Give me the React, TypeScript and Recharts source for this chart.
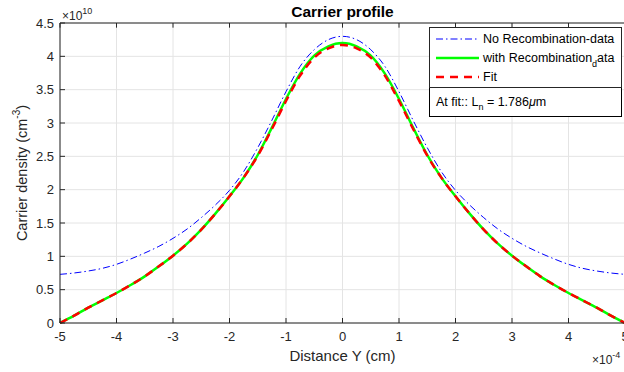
import React from "react";
import {
  LineChart,
  Line,
  XAxis,
  YAxis,
  CartesianGrid,
  ReferenceLine,
  Label,
} from "recharts";

// distance in units of 1e-4 cm, densities in units of 1e10 cm^-3
const distance = [
  -5, -4.75, -4.5, -4.25, -4, -3.75, -3.5, -3.25, -3, -2.75, -2.5, -2.25, -2,
  -1.75, -1.5, -1.25, -1, -0.75, -0.5, -0.25, 0, 0.25, 0.5, 0.75, 1, 1.25, 1.5,
  1.75, 2, 2.25, 2.5, 2.75, 3, 3.25, 3.5, 3.75, 4, 4.25, 4.5, 4.75, 5,
];

const noRecombination = [
  0.73, 0.75, 0.78, 0.82, 0.88, 0.96, 1.05, 1.15, 1.27, 1.41, 1.58, 1.77, 1.99,
  2.27, 2.63, 3.04, 3.47, 3.85, 4.1, 4.25, 4.3, 4.25, 4.1, 3.85, 3.47, 3.04,
  2.63, 2.27, 1.99, 1.77, 1.58, 1.41, 1.27, 1.15, 1.05, 0.96, 0.88, 0.82, 0.78,
  0.75, 0.73,
];

const withRecombination = [
  0, 0.11, 0.23, 0.34, 0.45, 0.57, 0.7, 0.85, 1.01, 1.19, 1.4, 1.64, 1.9, 2.18,
  2.52, 2.93, 3.36, 3.74, 4.01, 4.15, 4.2, 4.15, 4.01, 3.74, 3.36, 2.93, 2.52,
  2.18, 1.9, 1.64, 1.4, 1.19, 1.01, 0.85, 0.7, 0.57, 0.45, 0.34, 0.23, 0.11, 0,
];

const fit = [
  0, 0.11, 0.23, 0.34, 0.45, 0.57, 0.7, 0.85, 1.01, 1.19, 1.4, 1.64, 1.9, 2.18,
  2.51, 2.91, 3.33, 3.71, 3.98, 4.12, 4.17, 4.12, 3.98, 3.71, 3.33, 2.91, 2.51,
  2.18, 1.9, 1.64, 1.4, 1.19, 1.01, 0.85, 0.7, 0.57, 0.45, 0.34, 0.23, 0.11, 0,
];

const xTicks = [-5, -4, -3, -2, -1, 0, 1, 2, 3, 4, 5];
const yTicks = [0, 0.5, 1, 1.5, 2, 2.5, 3, 3.5, 4, 4.5];

const data = distance.map((x, i) => ({
  x,
  noRecombination: noRecombination[i],
  withRecombination: withRecombination[i],
  fit: fit[i],
}));

const FONT = '"Liberation Sans", Arial, Helvetica, sans-serif';
const AXIS = "#262626";
const PLOT_TOP = 23;

const series = [
  {
    key: "noRecombination",
    color: "#0000ff",
    width: 1,
    dash: "7 3 1.5 3",
    label: <>No Recombination-data</>,
  },
  {
    key: "withRecombination",
    color: "#00ff00",
    width: 2.5,
    dash: undefined,
    label: (
      <>
        with Recombination
        <span style={{ fontSize: 9, position: "relative", top: 5 }}>d</span>
        ata
      </>
    ),
  },
  {
    key: "fit",
    color: "#ff0000",
    width: 2.5,
    dash: "8 6",
    label: <>Fit</>,
  },
];

function XTitle(props: any) {
  const { x, y, width } = props.viewBox;
  return (
    <g fontFamily={FONT} fill={AXIS}>
      <text
        x={x + width / 2}
        y={PLOT_TOP - 6}
        textAnchor="middle"
        fontSize={15.5}
        fontWeight="bold"
        fill="#000"
      >
        Carrier profile
      </text>
      <text x={x + 2} y={PLOT_TOP - 3} fontSize={12}>
        ×10
        <tspan dy={-6} fontSize={9}>
          10
        </tspan>
      </text>
      <text x={x + width / 2} y={y + 38} textAnchor="middle" fontSize={15}>
        Distance Y (cm)
      </text>
      <text x={x + width - 33} y={y + 41} fontSize={12}>
        ×10
        <tspan dy={-6} fontSize={9}>
          -4
        </tspan>
      </text>
    </g>
  );
}

function YTitle(props: any) {
  const { y, height } = props.viewBox;
  const cx = 22;
  const cy = y + height / 2;
  return (
    <text
      x={cx}
      y={cy}
      transform={`rotate(-90, ${cx}, ${cy})`}
      textAnchor="middle"
      dominantBaseline="central"
      fontFamily={FONT}
      fontSize={14.5}
      fill={AXIS}
    >
      Carrier density (cm
      <tspan dy={-6} fontSize={10}>
        -3
      </tspan>
      <tspan dy={6}>)</tspan>
    </text>
  );
}

function LegendBox() {
  return (
    <div
      style={{
        position: "absolute",
        left: 429,
        top: 27,
        width: 193,
        fontFamily: FONT,
        fontSize: 12.5,
        color: "#000",
      }}
    >
      <div
        style={{
          border: `1px solid ${AXIS}`,
          background: "#fff",
          padding: "1px 0 1px 6px",
        }}
      >
        {series.map((s) => (
          <div
            key={s.key}
            style={{ display: "flex", alignItems: "center", height: 19 }}
          >
            <svg width={43} height={6} style={{ marginRight: 4 }}>
              <line
                x1={0}
                y1={3}
                x2={43}
                y2={3}
                stroke={s.color}
                strokeWidth={s.width}
                strokeDasharray={s.dash}
              />
            </svg>
            <span style={{ whiteSpace: "nowrap" }}>{s.label}</span>
          </div>
        ))}
      </div>
      <div
        style={{
          border: "1px solid #000",
          borderTop: "none",
          background: "#fff",
          height: 28,
          display: "flex",
          alignItems: "center",
          paddingLeft: 6,
          whiteSpace: "nowrap",
        }}
      >
        At fit:: L
        <span style={{ fontSize: 9, position: "relative", top: 5 }}>n</span>
        &nbsp;= 1.786<i>μ</i>m
      </div>
    </div>
  );
}

export default function App() {
  return (
    <div
      style={{
        position: "fixed",
        left: 0,
        top: 0,
        width: 624,
        height: 372,
        overflow: "hidden",
        background: "#fff",
      }}
    >
      <LineChart
        width={624}
        height={372}
        data={data}
        margin={{ top: PLOT_TOP, right: -1, bottom: 0, left: 0 }}
      >
        <CartesianGrid stroke="#e4e4e4" />
        <XAxis
          dataKey="x"
          type="number"
          domain={[-5, 5]}
          ticks={xTicks}
          interval={0}
          height={49}
          stroke={AXIS}
          tickSize={-5}
          tickMargin={14}
          tick={{ fill: AXIS, fontSize: 13, fontFamily: FONT }}
        >
          <Label content={XTitle} />
        </XAxis>
        <YAxis
          type="number"
          domain={[0, 4.5]}
          ticks={yTicks}
          interval={0}
          width={60}
          stroke={AXIS}
          tickSize={-5}
          tickMargin={11}
          tick={{ fill: AXIS, fontSize: 13, fontFamily: FONT }}
        >
          <Label content={YTitle} />
        </YAxis>
        {/* top frame of the box with inward ticks */}
        <ReferenceLine y={4.5} stroke={AXIS} />
        {xTicks.map((t) => (
          <ReferenceLine
            key={`top-${t}`}
            segment={[
              { x: t, y: 4.5 },
              { x: t, y: 4.43 },
            ]}
            stroke={AXIS}
          />
        ))}
        {series.map((s) => (
          <Line
            key={s.key}
            type="monotone"
            dataKey={s.key}
            stroke={s.color}
            strokeWidth={s.width}
            strokeDasharray={s.dash}
            dot={false}
            activeDot={false}
            isAnimationActive={false}
          />
        ))}
      </LineChart>
      <LegendBox />
    </div>
  );
}
